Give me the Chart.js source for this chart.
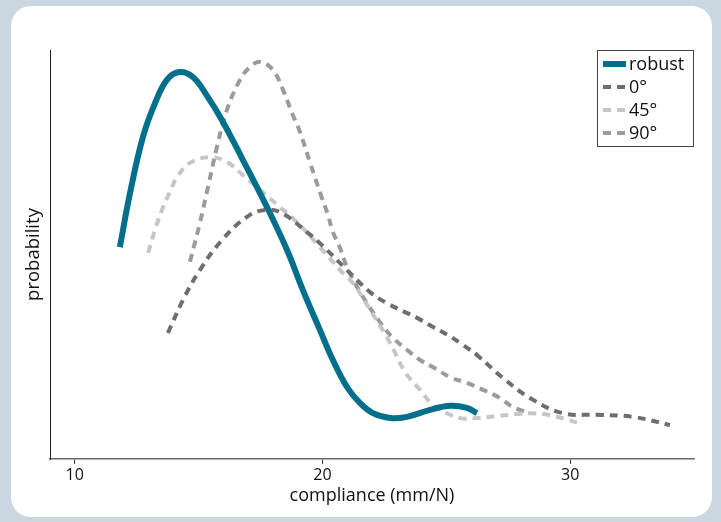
<!DOCTYPE html>
<html>
<head>
<meta charset="utf-8">
<script src="https://cdn.jsdelivr.net/npm/chart.js@4"></script>
<style>
  html, body { margin: 0; padding: 0; background: #cad7e0; width: 721px; height: 522px; overflow: hidden; }
  #cartao { position: absolute; left: 11px; top: 6px; width: 701px; height: 511px; background: #fff; border-radius: 20px; }
  #grafico { position: absolute; left: 0; top: 0; }
</style>
</head>
<body>
<div id="cartao"></div>
<canvas id="grafico" width="721" height="522"></canvas>
<script>
// compliance (mm/N) e probabilidade
var xRobust = [11.82, 12.23, 12.75, 13.24, 13.72, 14.21, 14.77, 15.34, 15.94, 16.79, 17.76, 18.57, 19.21, 19.90, 20.42, 20.99, 21.51, 22.04, 22.73, 23.41, 24.34, 25.15, 25.83, 26.24];
var yRobust = [0.518, 0.650, 0.787, 0.870, 0.927, 0.946, 0.934, 0.888, 0.829, 0.731, 0.616, 0.511, 0.413, 0.315, 0.242, 0.176, 0.137, 0.112, 0.100, 0.103, 0.120, 0.130, 0.125, 0.112];

var x0 = [13.76, 14.37, 15.05, 15.94, 16.95, 17.68, 18.37, 19.41, 19.98, 20.99, 21.92, 22.60, 23.82, 24.46, 25.07, 25.67, 26.24, 27.29, 28.38, 29.71, 31.12, 32.54, 34.03];
var y0 = [0.308, 0.389, 0.462, 0.535, 0.592, 0.609, 0.601, 0.553, 0.523, 0.462, 0.408, 0.381, 0.345, 0.323, 0.303, 0.279, 0.254, 0.198, 0.149, 0.112, 0.108, 0.103, 0.083];

var x45 = [12.96, 13.24, 13.52, 13.84, 14.13, 14.65, 15.46, 16.14, 16.79, 17.48, 18.28, 18.97, 19.90, 20.71, 21.23, 22.00, 22.73, 23.33, 23.94, 24.46, 25.03, 25.55, 26.24, 27.05, 27.85, 28.38, 29.10, 29.79, 30.32];
var y45 = [0.504, 0.560, 0.609, 0.653, 0.689, 0.724, 0.738, 0.726, 0.694, 0.658, 0.616, 0.579, 0.518, 0.462, 0.430, 0.357, 0.284, 0.213, 0.169, 0.132, 0.112, 0.100, 0.100, 0.105, 0.110, 0.112, 0.108, 0.098, 0.088];

var x90 = [14.65, 15.05, 15.38, 15.74, 16.14, 16.67, 17.07, 17.48, 18.00, 18.41, 18.77, 19.09, 19.50, 19.98, 20.22, 20.42, 20.71, 20.99, 21.59, 22.40, 22.85, 23.41, 23.94, 24.54, 25.15, 25.83, 26.48, 27.17, 27.69, 28.38];
var y90 = [0.482, 0.577, 0.665, 0.763, 0.853, 0.927, 0.958, 0.971, 0.951, 0.902, 0.846, 0.800, 0.724, 0.638, 0.597, 0.555, 0.516, 0.469, 0.401, 0.328, 0.296, 0.267, 0.242, 0.222, 0.200, 0.186, 0.169, 0.149, 0.127, 0.112];

var xTicks = [10, 20, 30];

function pontos(xs, ys){
    var lista = [];
    for (let i = 0; i < xs.length; i++) {
        lista.push({x: xs[i], y: ys[i]});
    }
    return lista;
}

function serie(nome, xs, ys, cor, largura, traco){
    return {
        label: nome,
        data: pontos(xs, ys),
        borderColor: cor,
        borderWidth: largura,
        borderDash: traco,
        borderCapStyle: 'butt',
        pointRadius: 0,
        fill: false,
        tension: 0.4
    };
}

// legenda com moldura, desenhada a mao
var legendaCaixa = {
    id: 'legendaCaixa',
    afterDraw: function(chart){
        var ctx = chart.ctx, area = chart.chartArea;
        var largura = 97, altura = 97;
        var esq = area.right - largura, topo = area.top;
        ctx.save();
        ctx.fillStyle = '#fff';
        ctx.fillRect(esq, topo, largura, altura);
        ctx.strokeStyle = '#444';
        ctx.lineWidth = 1;
        ctx.strokeRect(esq + 0.5, topo + 0.5, largura - 1, altura - 1);
        ctx.font = '18px "Open Sans"';
        ctx.textBaseline = 'middle';
        chart.data.datasets.forEach(function(ds, i){
            var y = topo + 14 + i * 23;
            ctx.beginPath();
            ctx.strokeStyle = ds.borderColor;
            ctx.lineWidth = ds.borderWidth;
            ctx.setLineDash(ds.borderDash || []);
            ctx.moveTo(esq + 6, y);
            ctx.lineTo(esq + 29, y);
            ctx.stroke();
            ctx.setLineDash([]);
            ctx.fillStyle = '#111';
            ctx.fillText(ds.label, esq + 32, y + 1);
        });
        ctx.restore();
    }
};

window.addEventListener("load", function (){
    Chart.defaults.font.family = '"Open Sans"';
    Chart.defaults.color = '#111';

    new Chart(document.getElementById("grafico"), {
        type: 'line',
        data: {
            datasets: [
                serie('robust', xRobust, yRobust, '#006f8b', 6, []),
                serie('0°', x0, y0, '#6e6e6e', 4, [8, 6]),
                serie('45°', x45, y45, '#c6c6c6', 4, [8, 6]),
                serie('90°', x90, y90, '#9b9b9b', 4, [8, 6])
            ]
        },
        options: {
            responsive: false,
            animation: false,
            devicePixelRatio: 1,
            layout: { padding: { left: 0, right: 27, top: 50, bottom: 0 } },
            plugins: { legend: { display: false }, tooltip: { enabled: false } },
            scales: {
                x: {
                    type: 'linear',
                    min: 9,
                    max: 35,
                    afterBuildTicks: function(s){ s.ticks = xTicks.map(function(v){ return {value: v}; }); },
                    afterFit: function(s){ s.height = 63; },
                    grid: { drawOnChartArea: false, drawTicks: true, tickLength: 5, tickColor: '#333', lineWidth: 1 },
                    border: { display: true, color: '#6a6a6a', width: 1.6 },
                    ticks: { padding: 2, font: { size: 16 }, color: '#111' },
                    title: { display: true, text: 'compliance (mm/N)', font: { size: 18 }, color: '#111', padding: { top: 0, bottom: 15 } }
                },
                y: {
                    min: 0,
                    max: 1,
                    afterFit: function(s){ s.width = 50; },
                    grid: { display: false },
                    border: { display: true, color: '#222', width: 1 },
                    ticks: { display: false },
                    title: { display: true, text: 'probability', font: { size: 18.5 }, color: '#111', padding: { top: 23, bottom: 0 } }
                }
            }
        },
        plugins: [legendaCaixa]
    });
});
</script>
</body>
</html>
